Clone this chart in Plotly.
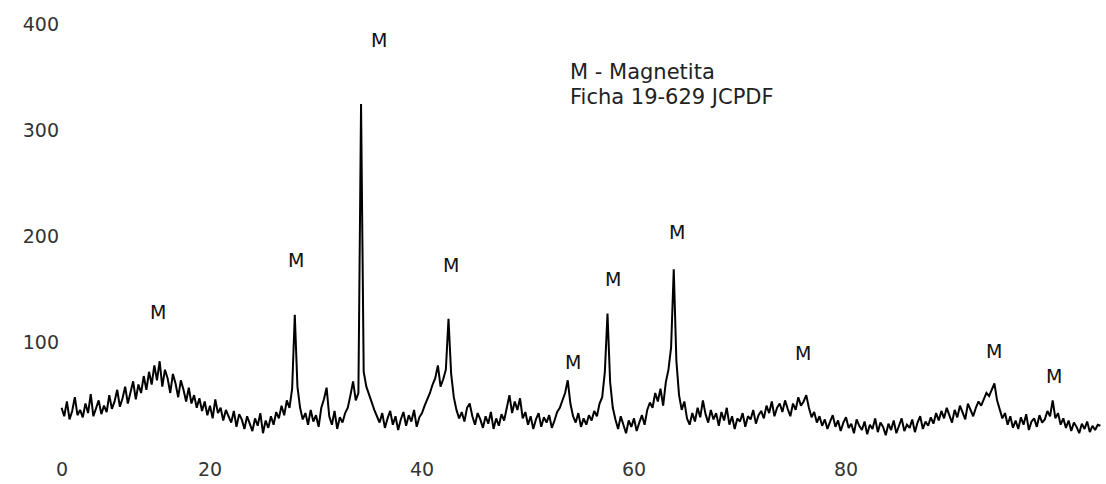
import plotly.graph_objects as go
import numpy as np

two_theta_start = 6.0
two_theta_step = 0.25
intensity = [
    38, 30, 44, 27, 35, 48, 31, 36,      # 6
    29, 42, 33, 51, 30, 38, 45, 32,      # 8
    40, 34, 50, 37, 44, 55, 39, 47,      # 10
    58, 42, 53, 63, 46, 60, 52, 68,      # 12
    55, 72, 60, 78, 64, 82, 58, 74,      # 14
    66, 52, 70, 61, 48, 64, 55, 44,      # 16
    57, 42, 50, 38, 47, 35, 44, 31,      # 18
    40, 28, 46, 33, 38, 26, 36, 30,      # 20
    24, 35, 20, 32, 27, 18, 30, 23,      # 22
    16, 28, 21, 33, 14, 26, 19, 30,      # 24
    22, 34, 28, 40, 31, 45, 38, 56,      # 26
    126, 58, 38, 27, 33, 22, 36, 25,     # 28
    31, 20, 38, 46, 57, 30, 22, 35,      # 30
    18, 29, 24, 33, 38, 50, 63, 45,      # 32
    52, 325, 72, 58, 50, 42, 36, 30,     # 34
    24, 33, 19, 28, 35, 22, 30, 17,      # 36
    27, 34, 21, 31, 25, 36, 20, 29,      # 38
    33, 40, 46, 52, 60, 66, 78, 58,      # 40
    65, 74, 122, 70, 48, 36, 28, 34,     # 42
    25, 38, 42, 30, 22, 33, 27, 19,      # 44
    30, 23, 34, 18, 28, 21, 32, 26,      # 46
    38, 50, 33, 44, 36, 47, 28, 34,      # 48
    22, 30, 18, 27, 33, 20, 29, 24,      # 50
    31, 19, 26, 34, 38, 46, 52, 64,      # 52
    42, 30, 24, 33, 20, 28, 22, 31,      # 54
    26, 35, 30, 42, 48, 72, 127, 62,     # 56
    38, 27, 18, 30, 22, 14, 26, 20,      # 58
    28, 16, 24, 31, 22, 36, 43, 38,      # 60
    52, 44, 56, 40, 62, 74, 95, 169,     # 62
    82, 50, 36, 44, 28, 22, 33, 25,      # 64
    38, 29, 45, 32, 24, 36, 27, 33,      # 66
    21, 34, 26, 38, 22, 30, 18, 28,      # 68
    25, 33, 20, 30, 27, 36, 23, 31,      # 70
    35, 28, 40, 33, 44, 30, 38, 42,      # 72
    34, 45, 37, 30, 42, 36, 48, 40,      # 74
    44, 50, 38, 29, 34, 24, 30, 21,      # 76
    27, 18, 25, 31, 20, 26, 16, 24,      # 78
    29, 19, 23, 14, 27, 21, 17, 25,      # 80
    13, 22, 18, 28, 15, 24, 20, 12,      # 82
    23, 17, 26, 14, 21, 28, 16, 22,      # 84
    19, 27, 15, 24, 30, 18, 25, 21,      # 86
    29, 23, 33, 26, 35, 28, 38, 31,      # 88
    24, 36, 29, 40, 33, 27, 42, 35,      # 90
    30, 38, 44, 40, 47, 52, 49, 55,      # 92
    61, 45, 36, 28, 33, 22, 30, 19,      # 94
    26, 18, 29, 22, 32, 17, 25, 28,      # 96
    20, 31, 24, 27, 35, 30, 45, 28,      # 98
    33, 22, 28, 19, 26, 16, 24, 20,      # 100
    14, 23, 18, 25, 15, 21, 17, 22,      # 102
    21,                                  # 104
]
two_theta = two_theta_start + two_theta_step * np.arange(len(intensity))

# Peak markers "M" (magnetite)
m_x = [15.1, 28.1, 35.9, 42.7, 54.2, 58.0, 64.1, 75.9, 94.0, 99.6]
m_y = [129, 178, 386, 173, 81, 160, 204, 90, 92, 68]

legend_lines = ["M - Magnetita", "Ficha 19-629 JCPDF"]

x_tick_vals = [6.04, 20, 40, 60, 80]
x_tick_text = ["0", "20", "40", "60", "80"]
y_tick_vals = [100, 200, 300, 400]

fig = go.Figure()
fig.add_trace(go.Scatter(
    x=two_theta, y=intensity, mode="lines",
    line=dict(color="black", width=2),
    showlegend=False, hoverinfo="skip",
))

font_family = "DejaVu Sans, Liberation Sans, Arial, sans-serif"
for xv, yv in zip(m_x, m_y):
    fig.add_annotation(x=xv, y=yv, text="M", showarrow=False,
                       font=dict(family=font_family, size=19, color="#111"),
                       xanchor="center", yanchor="middle")

fig.add_annotation(x=53.8, y=355, text=legend_lines[0], showarrow=False,
                   font=dict(family=font_family, size=21, color="#222"),
                   xanchor="left", yanchor="middle")
fig.add_annotation(x=53.8, y=332, text=legend_lines[1], showarrow=False,
                   font=dict(family=font_family, size=21, color="#222"),
                   xanchor="left", yanchor="middle")

fig.update_layout(
    width=1106, height=484,
    margin=dict(l=60, r=4, t=4, b=31),
    paper_bgcolor="white", plot_bgcolor="white",
    font=dict(family=font_family, size=19, color="#333"),
    xaxis=dict(range=[5.85, 104.15], tickmode="array", tickvals=x_tick_vals,
               ticktext=x_tick_text, showgrid=False, zeroline=False,
               showline=False, ticks="outside", ticklen=4,
               tickcolor="rgba(0,0,0,0)"),
    yaxis=dict(range=[0, 419.6], tickmode="array", tickvals=y_tick_vals,
               showgrid=False, zeroline=False, showline=False, ticks=""),
)

fig.write_html("out.html")
